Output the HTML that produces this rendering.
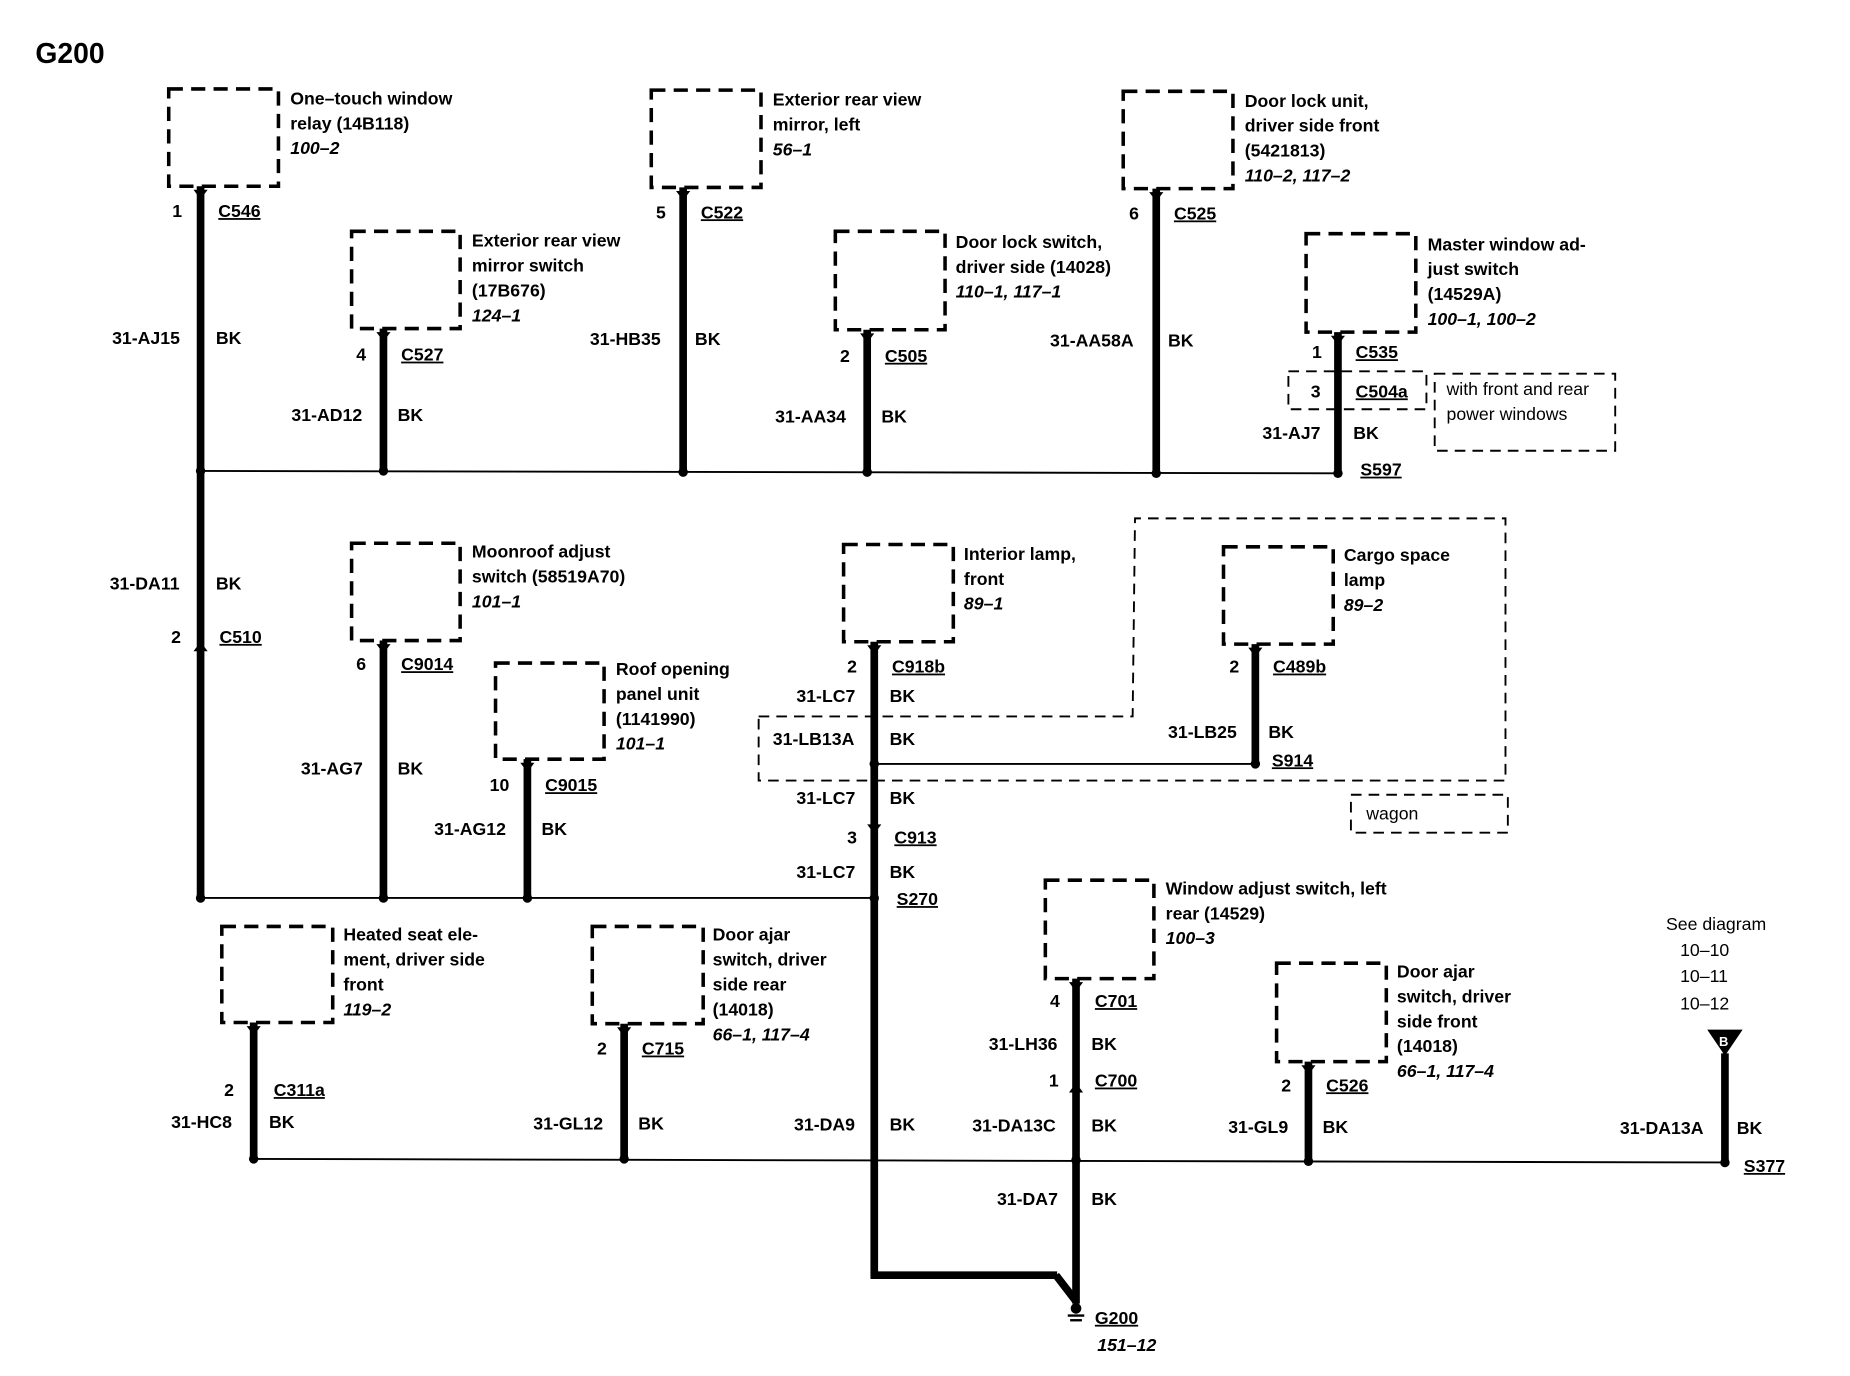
<!DOCTYPE html>
<html><head><meta charset="utf-8"><style>
html,body{margin:0;padding:0;background:#fff;}
svg{display:block;}
text{font-family:"Liberation Sans",Arial,sans-serif;font-weight:bold;font-size:15px;fill:#000;}
.i{font-style:italic;}
.u{text-decoration:underline;}
.b{fill:none;stroke:#000;stroke-width:3;stroke-dasharray:12,7;}
.d{fill:none;stroke:#000;stroke-width:1.6;stroke-dasharray:9,6;}
.t{stroke:#000;stroke-width:1.6;fill:none;}
</style></head><body>
<svg width="1850" height="1376" viewBox="0 0 1568 1160" preserveAspectRatio="none" xmlns="http://www.w3.org/2000/svg">
<rect x="0" y="0" width="1568" height="1160" fill="#fff"/>
<text x="30" y="53" style="font-size:24px">G200</text>

<line class="t" x1="170" y1="397" x2="1134" y2="399"/>
<line class="t" x1="170" y1="757" x2="741" y2="757"/>
<line class="t" x1="741" y1="644" x2="1064" y2="644"/>
<line class="t" x1="215" y1="977" x2="1462" y2="980"/>

<rect class="b" x="143" y="75" width="93" height="82"/>
<rect class="b" x="298" y="195" width="92" height="82"/>
<rect class="b" x="552" y="76" width="93" height="82"/>
<rect class="b" x="708" y="195" width="93" height="83"/>
<rect class="b" x="952" y="77" width="93" height="82"/>
<rect class="b" x="1107" y="197" width="93" height="83"/>
<rect class="b" x="298" y="458" width="92" height="82"/>
<rect class="b" x="420" y="559" width="92" height="81"/>
<rect class="b" x="715" y="459" width="93" height="82"/>
<rect class="b" x="1037" y="461" width="93" height="82"/>
<rect class="b" x="188" y="781" width="94" height="81"/>
<rect class="b" x="502" y="781" width="94" height="82"/>
<rect class="b" x="886" y="742" width="92" height="83"/>
<rect class="b" x="1082" y="812" width="93" height="83"/>

<rect class="d" x="1092" y="313" width="117" height="32"/>
<rect class="d" x="1216" y="315" width="153" height="65"/>
<polyline class="d" points="643,604 960,604 962,437 1276,437 1276,658 643,658 643,604"/>
<rect class="d" x="1145" y="670" width="133" height="32"/>

<g stroke="#000" stroke-width="6.5" fill="none">
<line x1="170" y1="157" x2="170" y2="757"/>
<line x1="325" y1="277" x2="325" y2="397"/>
<line x1="579" y1="158" x2="579" y2="398"/>
<line x1="735" y1="278" x2="735" y2="398"/>
<line x1="980" y1="159" x2="980" y2="399"/>
<line x1="1134" y1="280" x2="1134" y2="399"/>
<line x1="325" y1="540" x2="325" y2="757"/>
<line x1="447" y1="640" x2="447" y2="757"/>
<line x1="741" y1="541" x2="741" y2="1078"/>
<line x1="738" y1="1075" x2="896" y2="1075"/>
<line x1="895" y1="1075" x2="912" y2="1097"/>
<line x1="912" y1="825" x2="912" y2="1099"/>
<line x1="1064" y1="543" x2="1064" y2="644"/>
<line x1="215" y1="862" x2="215" y2="977"/>
<line x1="529" y1="863" x2="529" y2="977"/>
<line x1="1109" y1="895" x2="1109" y2="979"/>
<line x1="1462" y1="888" x2="1462" y2="980"/>
</g>

<g fill="#000">
<path d="M164,160 L170,168 L176,160 Z"/>
<path d="M319,280 L325,288 L331,280 Z"/>
<path d="M573,161 L579,169 L585,161 Z"/>
<path d="M729,281 L735,289 L741,281 Z"/>
<path d="M974,162 L980,170 L986,162 Z"/>
<path d="M1128,283 L1134,291 L1140,283 Z"/>
<path d="M164,549 L170,541 L176,549 Z"/>
<path d="M319,543 L325,551 L331,543 Z"/>
<path d="M441,643 L447,651 L453,643 Z"/>
<path d="M735,544 L741,552 L747,544 Z"/>
<path d="M735,695 L741,703 L747,695 Z"/>
<path d="M1058,546 L1064,554 L1070,546 Z"/>
<path d="M209,865 L215,873 L221,865 Z"/>
<path d="M523,866 L529,874 L535,866 Z"/>
<path d="M906,828 L912,836 L918,828 Z"/>
<path d="M906,921 L912,913 L918,921 Z"/>
<path d="M1103,898 L1109,906 L1115,898 Z"/>
<path d="M1447,868 L1477,868 L1462,890 Z"/>
</g>
<text x="1457" y="882" style="font-size:11px;fill:#fff">B</text>

<g fill="#000">
<circle cx="170" cy="397" r="4"/><circle cx="325" cy="397" r="4"/><circle cx="579" cy="398" r="4"/>
<circle cx="735" cy="398" r="4"/><circle cx="980" cy="399" r="4"/><circle cx="1134" cy="399" r="4"/>
<circle cx="170" cy="757" r="4"/><circle cx="325" cy="757" r="4"/><circle cx="447" cy="757" r="4"/>
<circle cx="741" cy="757" r="4"/><circle cx="741" cy="644" r="4"/><circle cx="1064" cy="644" r="4"/>
<circle cx="215" cy="977" r="4"/><circle cx="529" cy="977" r="4"/><circle cx="912" cy="978" r="4"/>
<circle cx="1109" cy="979" r="4"/><circle cx="1462" cy="980" r="4"/>
<circle cx="912" cy="1103" r="4.5"/>
</g>
<line x1="905" y1="1109" x2="919" y2="1109" stroke="#000" stroke-width="2"/>
<line x1="907" y1="1113" x2="917" y2="1113" stroke="#000" stroke-width="2"/>

<text x="246" y="88">One–touch window</text><text x="246" y="109">relay (14B118)</text><text x="246" y="130" class="i">100–2</text>
<text x="400" y="208">Exterior rear view</text><text x="400" y="229">mirror switch</text><text x="400" y="250">(17B676)</text><text x="400" y="271" class="i">124–1</text>
<text x="655" y="89">Exterior rear view</text><text x="655" y="110">mirror, left</text><text x="655" y="131" class="i">56–1</text>
<text x="810" y="209">Door lock switch,</text><text x="810" y="230">driver side (14028)</text><text x="810" y="251" class="i">110–1, 117–1</text>
<text x="1055" y="90">Door lock unit,</text><text x="1055" y="111">driver side front</text><text x="1055" y="132">(5421813)</text><text x="1055" y="153" class="i">110–2, 117–2</text>
<text x="1210" y="211">Master window ad-</text><text x="1210" y="232">just switch</text><text x="1210" y="253">(14529A)</text><text x="1210" y="274" class="i">100–1, 100–2</text>
<text x="400" y="470">Moonroof adjust</text><text x="400" y="491">switch (58519A70)</text><text x="400" y="512" class="i">101–1</text>
<text x="522" y="569">Roof opening</text><text x="522" y="590">panel unit</text><text x="522" y="611">(1141990)</text><text x="522" y="632" class="i">101–1</text>
<text x="817" y="472">Interior lamp,</text><text x="817" y="493">front</text><text x="817" y="514" class="i">89–1</text>
<text x="1139" y="473">Cargo space</text><text x="1139" y="494">lamp</text><text x="1139" y="515" class="i">89–2</text>
<text x="291" y="793">Heated seat ele-</text><text x="291" y="814">ment, driver side</text><text x="291" y="835">front</text><text x="291" y="856" class="i">119–2</text>
<text x="604" y="793">Door ajar</text><text x="604" y="814">switch, driver</text><text x="604" y="835">side rear</text><text x="604" y="856">(14018)</text><text x="604" y="877" class="i">66–1, 117–4</text>
<text x="988" y="754">Window adjust switch, left</text><text x="988" y="775">rear (14529)</text><text x="988" y="796" class="i">100–3</text>
<text x="1184" y="824">Door ajar</text><text x="1184" y="845">switch, driver</text><text x="1184" y="866">side front</text><text x="1184" y="887">(14018)</text><text x="1184" y="908" class="i">66–1, 117–4</text>
<text x="1226" y="333" style="font-weight:normal">with front and rear</text><text x="1226" y="354" style="font-weight:normal">power windows</text>
<text x="1158" y="691" style="font-weight:normal">wagon</text>
<text x="1412" y="784" style="font-weight:normal">See diagram</text><text x="1424" y="806" style="font-weight:normal">10–10</text><text x="1424" y="828" style="font-weight:normal">10–11</text><text x="1424" y="851" style="font-weight:normal">10–12</text>

<g>
<text x="146" y="183">1</text><text x="185" y="183" class="u">C546</text>
<text x="95" y="290">31-AJ15</text><text x="183" y="290">BK</text>
<text x="302" y="304">4</text><text x="340" y="304" class="u">C527</text>
<text x="247" y="355">31-AD12</text><text x="337" y="355">BK</text>
<text x="556" y="184">5</text><text x="594" y="184" class="u">C522</text>
<text x="500" y="291">31-HB35</text><text x="589" y="291">BK</text>
<text x="712" y="305">2</text><text x="750" y="305" class="u">C505</text>
<text x="657" y="356">31-AA34</text><text x="747" y="356">BK</text>
<text x="957" y="185">6</text><text x="995" y="185" class="u">C525</text>
<text x="890" y="292">31-AA58A</text><text x="990" y="292">BK</text>
<text x="1112" y="302">1</text><text x="1149" y="302" class="u">C535</text>
<text x="1111" y="335">3</text><text x="1149" y="335" class="u">C504a</text>
<text x="1070" y="370">31-AJ7</text><text x="1147" y="370">BK</text>
<text x="1153" y="401" class="u">S597</text>
<text x="93" y="497">31-DA11</text><text x="183" y="497">BK</text>
<text x="145" y="542">2</text><text x="186" y="542" class="u">C510</text>
<text x="302" y="565">6</text><text x="340" y="565" class="u">C9014</text>
<text x="255" y="653">31-AG7</text><text x="337" y="653">BK</text>
<text x="415" y="667">10</text><text x="462" y="667" class="u">C9015</text>
<text x="368" y="704">31-AG12</text><text x="459" y="704">BK</text>
<text x="718" y="567">2</text><text x="756" y="567" class="u">C918b</text>
<text x="675" y="592">31-LC7</text><text x="754" y="592">BK</text>
<text x="655" y="628">31-LB13A</text><text x="754" y="628">BK</text>
<text x="675" y="678">31-LC7</text><text x="754" y="678">BK</text>
<text x="718" y="711">3</text><text x="758" y="711" class="u">C913</text>
<text x="675" y="740">31-LC7</text><text x="754" y="740">BK</text>
<text x="760" y="763" class="u">S270</text>
<text x="1042" y="567">2</text><text x="1079" y="567" class="u">C489b</text>
<text x="990" y="622">31-LB25</text><text x="1075" y="622">BK</text>
<text x="1078" y="646" class="u">S914</text>
<text x="190" y="924">2</text><text x="232" y="924" class="u">C311a</text>
<text x="145" y="951">31-HC8</text><text x="228" y="951">BK</text>
<text x="506" y="889">2</text><text x="544" y="889" class="u">C715</text>
<text x="452" y="952">31-GL12</text><text x="541" y="952">BK</text>
<text x="673" y="953">31-DA9</text><text x="754" y="953">BK</text>
<text x="890" y="849">4</text><text x="928" y="849" class="u">C701</text>
<text x="838" y="885">31-LH36</text><text x="925" y="885">BK</text>
<text x="889" y="916">1</text><text x="928" y="916" class="u">C700</text>
<text x="824" y="954">31-DA13C</text><text x="925" y="954">BK</text>
<text x="845" y="1016">31-DA7</text><text x="925" y="1016">BK</text>
<text x="1086" y="920">2</text><text x="1124" y="920" class="u">C526</text>
<text x="1041" y="955">31-GL9</text><text x="1121" y="955">BK</text>
<text x="1373" y="956">31-DA13A</text><text x="1472" y="956">BK</text>
<text x="1478" y="988" class="u">S377</text>
<text x="928" y="1116" class="u">G200</text>
</g>
<text x="930" y="1139" class="i">151–12</text>
</svg>
</body></html>
